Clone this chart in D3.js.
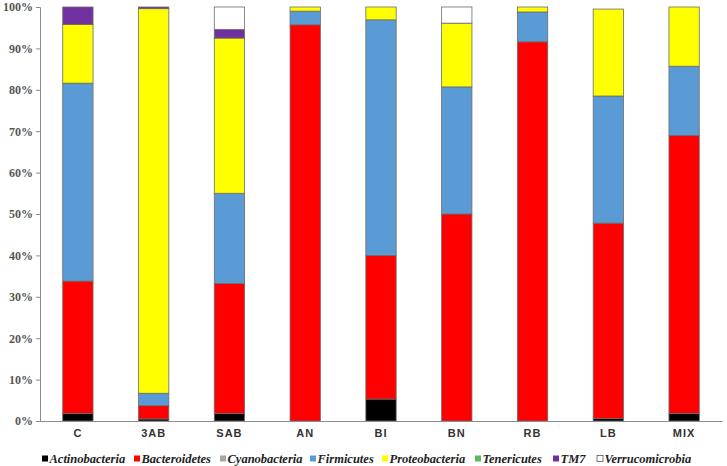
<!DOCTYPE html>
<html>
<head>
<meta charset="utf-8">
<script src="https://cdn.jsdelivr.net/npm/d3@7"></script>
<style>
  body { margin: 0; background: #fff; }
  svg { display: block; }
</style>
</head>
<body>
<svg width="727" height="466"></svg>
<script>
// samples and phyla
var samples = ["C", "3AB", "SAB", "AN", "BI", "BN", "RB", "LB", "MIX"];
var phyla = ["Actinobacteria", "Bacteroidetes", "Cyanobacteria", "Firmicutes",
             "Proteobacteria", "Tenericutes", "TM7", "Verrucomicrobia"];
var colors = ["#000000", "#ff0000", "#a6a6a6", "#5b9bd5", "#ffff00", "#5cb85c", "#7030a0", "#ffffff"];

// relative abundance (%) per phylum, one value per sample
var actinobacteria  = [1.8, 0.5, 1.8, 0, 5.3, 0, 0, 0.6, 1.8];
var bacteroidetes   = [32.0, 3.2, 31.4, 95.7, 34.7, 50.0, 91.6, 47.2, 67.2];
var cyanobacteria   = [0, 0, 0, 0, 0, 0, 0, 0, 0];
var firmicutes      = [47.8, 3.0, 21.8, 3.3, 56.9, 30.7, 7.2, 30.7, 16.7];
var proteobacteria  = [14.2, 92.9, 37.5, 1.0, 3.1, 15.4, 1.2, 21.0, 14.3];
var tenericutes     = [0, 0, 0, 0, 0, 0, 0, 0, 0];
var tm7             = [4.2, 0.4, 2.1, 0, 0, 0, 0, 0, 0];
var verrucomicrobia = [0, 0, 5.4, 0, 0, 3.9, 0, 0, 0];

var yTicks = [0, 10, 20, 30, 40, 50, 60, 70, 80, 90, 100];

var series = [actinobacteria, bacteroidetes, cyanobacteria, firmicutes,
              proteobacteria, tenericutes, tm7, verrucomicrobia];

var rows = samples.map(function (s, i) {
    var r = { sample: s };
    phyla.forEach(function (p, j) { r[p] = series[j][i]; });
    return r;
});

var svg = d3.select("svg"),
    margin = { top: 7, right: 5, bottom: 45, left: 40 },
    width = +svg.attr("width") - margin.left - margin.right,
    height = +svg.attr("height") - margin.top - margin.bottom;

var g = svg.append("g").attr("transform", "translate(" + margin.left + "," + margin.top + ")");

var x = d3.scaleBand().domain(samples).range([0, width]).paddingInner(0.6).paddingOuter(0.3);
var y = d3.scaleLinear().domain([0, 100]).range([height, 0]);
var color = d3.scaleOrdinal().domain(phyla).range(colors);

var stacked = d3.stack().keys(phyla)(rows);

g.selectAll("g.layer")
    .data(stacked)
    .enter().append("g")
    .attr("class", "layer")
    .attr("fill", function (d) { return color(d.key); })
    .selectAll("rect")
    .data(function (d) { return d.filter(function (v) { return v[1] - v[0] > 0; }); })
    .enter().append("rect")
    .attr("x", function (d) { return x(d.data.sample); })
    .attr("y", function (d) { return y(d[1]); })
    .attr("width", x.bandwidth())
    .attr("height", function (d) { return y(d[0]) - y(d[1]); })
    .attr("stroke", "#6b6b6b")
    .attr("stroke-width", 0.8);

// y axis
var yAxis = g.append("g")
    .call(d3.axisLeft(y).tickValues(yTicks).tickSize(4).tickFormat(function (d) { return d + "%"; }));
yAxis.select(".domain").attr("stroke", "#8c8c8c");
yAxis.selectAll(".tick line").attr("stroke", "#8c8c8c");
yAxis.selectAll("text")
    .attr("x", -7)
    .style("font-family", "'Liberation Serif'")
    .style("font-size", "12px")
    .style("font-weight", "bold")
    .attr("fill", "#555");

// x axis
var xAxis = g.append("g")
    .attr("transform", "translate(0," + height + ")")
    .call(d3.axisBottom(x).tickSize(0).tickSizeOuter(0));
xAxis.select(".domain").attr("stroke", "#8c8c8c");
xAxis.selectAll("text")
    .attr("dy", "1.2em")
    .style("font-family", "'Liberation Sans'")
    .style("font-size", "11px")
    .style("font-weight", "bold")
    .style("letter-spacing", "1px")
    .attr("fill", "#333");

// legend
var legendX = [42, 134, 220, 310, 382, 475, 553, 597];
var legend = svg.append("g").attr("transform", "translate(0,459)");
var item = legend.selectAll("g")
    .data(phyla)
    .enter().append("g")
    .attr("transform", function (d, i) { return "translate(" + legendX[i] + ",0)"; });
item.append("rect")
    .attr("x", 0).attr("y", -3.5)
    .attr("width", 6).attr("height", 6)
    .attr("fill", function (d) { return color(d); })
    .attr("stroke", function (d) { return d === "Verrucomicrobia" ? "#555" : "none"; })
    .attr("stroke-width", 0.8);
item.append("text")
    .attr("x", 7.5).attr("y", 4)
    .style("font-family", "'Liberation Serif'")
    .style("font-style", "italic")
    .style("font-weight", "bold")
    .style("font-size", "12.5px")
    .attr("fill", "#222")
    .text(function (d) { return d; });
</script>
</body>
</html>
